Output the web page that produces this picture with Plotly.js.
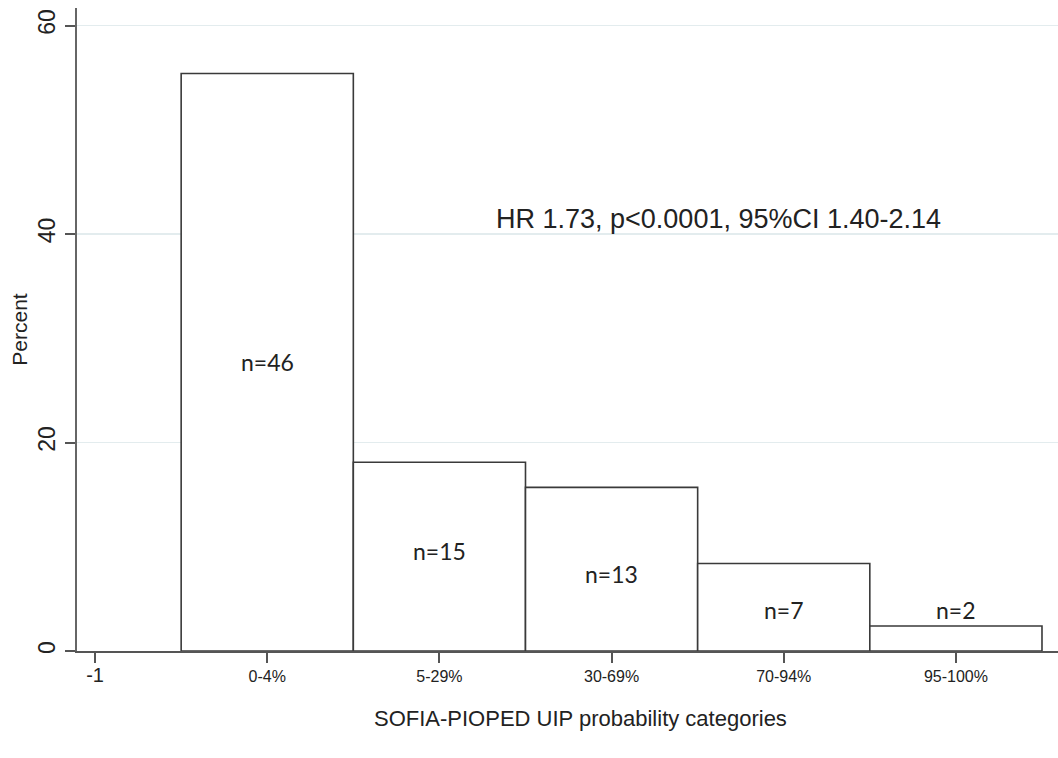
<!DOCTYPE html>
<html>
<head>
<meta charset="utf-8">
<script src="https://cdn.plot.ly/plotly-3.0.1.min.js"></script>
<style>
  html, body { margin: 0; padding: 0; background: #fff; }
  #chart { width: 1058px; height: 758px; }
</style>
</head>
<body>
<div id="chart"></div>
<script>
// ---- data ----
var categories = ["0-4%", "5-29%", "30-69%", "70-94%", "95-100%"];
var categoryX = [0, 1, 2, 3, 4];
var percents = [55.4, 18.1, 15.7, 8.4, 2.4];
var counts = [46, 15, 13, 7, 2];
var tickVals = [-1, 0, 1, 2, 3, 4];
var tickLabels = ["-1", "0-4%", "5-29%", "30-69%", "70-94%", "95-100%"];
var yTicks = [0, 20, 40, 60];
var statsText = "HR 1.73, p<0.0001, 95%CI 1.40-2.14";
var xTitle = "SOFIA-PIOPED UIP probability categories";
var yTitle = "Percent";

// vertical placement of the n= labels (layout, not data)
var nLabelY = [27.7, 9.6, 7.4, 3.9, 3.9];

var sans = "Liberation Sans, Arial, Helvetica, sans-serif";

var trace = {
  type: "bar",
  x: categoryX,
  y: percents,
  width: 1,
  marker: { color: "#ffffff", line: { color: "#3a3a3a", width: 1.6 } },
  hoverinfo: "skip"
};

var plotW = 1058 - 77, plotH = 758 - 8 - 107;

var annotations = categoryX.map(function (x, i) {
  return {
    x: x, y: nLabelY[i], xref: "x", yref: "y",
    text: "n=" + counts[i], showarrow: false,
    font: { family: "Lato, Open Sans, sans-serif", size: 23, color: "#222" }
  };
});
annotations.push({
  x: 2.62, y: 41.4, xref: "x", yref: "y", text: statsText.replace("<", "&lt;"),
  showarrow: false, xanchor: "center", yanchor: "middle",
  font: { family: sans, size: 27, color: "#222" }
});
annotations.push({
  x: (580 - 77) / plotW, y: -(718 - (758 - 107)) / plotH,
  xref: "paper", yref: "paper", text: xTitle, showarrow: false,
  xanchor: "center", yanchor: "middle",
  font: { family: sans, size: 22, color: "#222" }
});

var layout = {
  width: 1058, height: 758,
  margin: { l: 77, r: 0, t: 8, b: 107 },
  paper_bgcolor: "#fff", plot_bgcolor: "#fff",
  showlegend: false,
  bargap: 0,
  xaxis: {
    range: [-1.105, 4.593],
    tickmode: "array",
    tickvals: tickVals,
    ticktext: tickLabels.map(function (t, i) {
      return i === 0 ? '<span style="font-size:20px">' + t + '</span>' : t;
    }),
    ticks: "outside", ticklen: 10, tickwidth: 2, tickcolor: "#555",
    tickfont: { family: sans, size: 16, color: "#222" },
    showline: true, linecolor: "#555", linewidth: 2,
    showgrid: false, zeroline: false, fixedrange: true
  },
  yaxis: {
    range: [0, 61.68],
    tickmode: "array", tickvals: yTicks,
    ticks: "outside", ticklen: 10, tickwidth: 2, tickcolor: "#555",
    tickangle: -90,
    tickfont: { family: sans, size: 23, color: "#222" },
    showline: true, linecolor: "#666", linewidth: 2.5,
    showgrid: true, gridcolor: "#e3ecee", gridwidth: 1.5,
    zeroline: false, fixedrange: true,
    title: { text: yTitle, font: { family: sans, size: 21, color: "#222" }, standoff: 1 }
  },
  annotations: annotations
};

Plotly.newPlot("chart", [trace], layout, { displayModeBar: false, staticPlot: true });
</script>
</body>
</html>
